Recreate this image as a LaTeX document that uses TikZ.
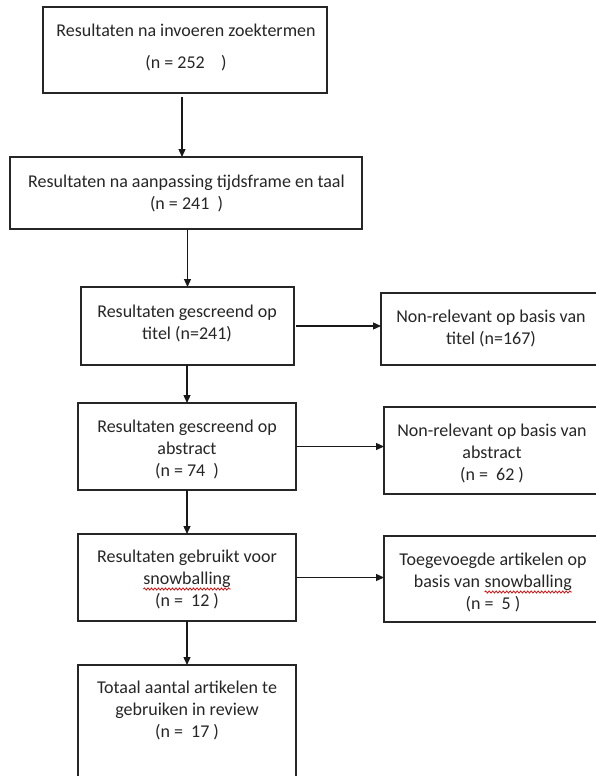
\documentclass[tikz,border=0pt]{standalone}
\usepackage{fontspec}
\setmainfont{Carlito}
\usetikzlibrary{arrows.meta,decorations.pathmorphing}
\newcommand{\redwavy}[1]{\tikz[baseline=(sw.base)]{\node[inner sep=0pt,outer sep=0pt,anchor=base](sw){#1};\draw[red!85!black,line width=0.7pt,decorate,decoration={snake,amplitude=1.1pt,segment length=3.5pt}]([yshift=-4.5pt]sw.base west)--([yshift=-4.5pt]sw.base east);}}
\begin{document}
\begin{tikzpicture}[x=1pt,y=-1pt,
  box/.style={draw=black!85,line width=1.3pt,rectangle,inner sep=0pt,outer sep=0pt,anchor=north west},
  txt/.style={inner sep=0pt,outer sep=0pt,anchor=north,align=center,font=\fontsize{18}{22}\selectfont,text=black!85},
  arr/.style={black!90,line width=1.3pt,-{Triangle[length=8pt,width=7pt]}}]
\useasboundingbox[fill=white] (0,0) rectangle (595,776);
% boxes
\node[box,minimum width=284,minimum height=86] (b1) at (43,7) {};
\node[box,minimum width=352,minimum height=72] (b2) at (10,157) {};
\node[box,minimum width=213,minimum height=78] (b3) at (81,287) {};
\node[box,minimum width=217,minimum height=72] (r1) at (381,293) {};
\node[box,minimum width=218,minimum height=87] (b4) at (78,403) {};
\node[box,minimum width=214,minimum height=87] (r2) at (384,407) {};
\node[box,minimum width=218,minimum height=87] (b5) at (78,534) {};
\node[box,minimum width=214,minimum height=86] (r3) at (384,536) {};
\node[box,minimum width=218,minimum height=130] (b6) at (78,665) {};
% texts
\node[txt] (t1) at (186,24) {Resultaten na invoeren zoektermen\\[10pt](n = 252\ \ \ \ )};
\node[txt] (t2) at (186.5,175) {Resultaten na aanpassing tijdsframe en taal\\(n = 241\ \ )};
\node[txt] (t3) at (187,305) {Resultaten gescreend op\\titel (n=241)};
\node[txt] (tr1) at (491,310) {Non-relevant op basis van\\titel (n=167)};
\node[txt] (t4) at (187,420) {Resultaten gescreend op\\abstract\\(n = 74\ \ )};
\node[txt] (tr2) at (492,424) {Non-relevant op basis van\\abstract\\(n =\ \ 62 )};
\node[txt] (t5) at (187,550) {Resultaten gebruikt voor\\\redwavy{snowballing}\\(n =\ \ 12 )};
\node[txt] (tr3) at (493,553) {Toegevoegde artikelen op\\basis van \redwavy{snowballing}\\(n =\ \ 5 )};
\node[txt] (t6) at (187,681) {Totaal aantal artikelen te\\gebruiken in review\\(n =\ \ 17 )};
% arrows
\draw[arr] ([xshift=-3pt,yshift=-4pt]b1.south) -- ([xshift=-3pt]b1.south |- b2.north);
\draw[arr] (b2.south -| b3.north) -- (b3.north);
\draw[arr] (b3.south -| b4.north) -- (b4.north);
\draw[arr] (b4.south) -- (b5.north);
\draw[arr] (b5.south) -- (b6.north);
\draw[arr] ([xshift=2pt]b3.east) -- (b3.east -| r1.west);
\draw[arr] (b4.east) -- (b4.east -| r2.west);
\draw[arr] (b5.east) -- (b5.east -| r3.west);
\end{tikzpicture}
\end{document}
